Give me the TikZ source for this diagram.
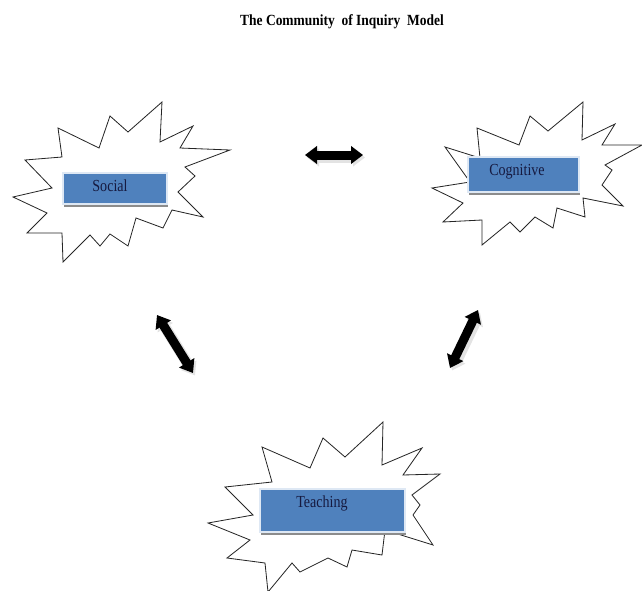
\documentclass[tikz,border=0pt]{standalone}
\usepackage{fontspec}
\setmainfont{Liberation Serif}
\usetikzlibrary{arrows.meta,shadows}
\definecolor{boxblue}{RGB}{79,129,189}
\definecolor{boxedge}{RGB}{222,232,244}
\definecolor{inkblue}{RGB}{22,26,64}
\tikzstyle{burst}=[draw=black!85,fill=white,line width=0.7pt,line join=miter]
\tikzstyle{tag}=[rectangle,fill=boxblue,draw=boxedge,line width=1.6pt,inner sep=0pt,
  drop shadow={shadow xshift=0.5pt,shadow yshift=-2.6pt,fill=black!45,opacity=1}]
\tikzstyle{tagtext}=[text=inkblue,font=\fontsize{12}{14}\selectfont,inner sep=0pt,yscale=1.2]
\tikzstyle{title}=[font=\fontsize{11.5}{13}\selectfont\bfseries,inner sep=0pt,yscale=1.15]
\tikzstyle{link}=[line width=0.27cm,{Triangle[width=0.52cm,length=0.36cm]}-{Triangle[width=0.52cm,length=0.36cm]}]

\begin{document}
\begin{tikzpicture}[x=0.03cm,y=-0.03cm]
    \useasboundingbox (0,0) rectangle (642,591);
    % Title
    \node[title] (Title) at (342,22) {The Community~ of Inquiry~ Model};

    % First the three bursts
    \draw[burst] (58,128) -- (99,148) -- (110,116) -- (128,132) -- (162,102) -- (160,142) -- (193,126)
        -- (180,148) -- (230,150) -- (185,167) -- (195,176) -- (178,192) -- (203,217) -- (172,210)
        -- (163,228) -- (136,218) -- (128,246) -- (110,234) -- (100,246) -- (90,235) -- (63,262)
        -- (62,233) -- (27,233) -- (47,213) -- (13,197) -- (52,188) -- (25,160) -- (62,157) -- cycle;
    \draw[burst] (477,128) -- (519,145) -- (530,116) -- (548,131) -- (583,102) -- (582,140) -- (615,124)
        -- (602,145) -- (642,145) -- (605,165) -- (612,170) -- (602,185) -- (623,206) -- (583,198)
        -- (585,217) -- (557,208) -- (553,228) -- (535,217) -- (520,232) -- (510,222) -- (482,245)
        -- (482,220) -- (443,222) -- (463,203) -- (432,188) -- (470,182) -- (445,147) -- (480,158) -- cycle;
    \draw[burst] (262,447) -- (310,468) -- (323,438) -- (345,457) -- (383,422) -- (382,465) -- (422,448)
        -- (403,475) -- (440,474) -- (412,495) -- (420,505) -- (413,515) -- (433,545) -- (385,530)
        -- (382,555) -- (352,550) -- (347,567) -- (328,558) -- (300,572) -- (292,563) -- (268,592)
        -- (265,563) -- (227,558) -- (250,540) -- (208,523) -- (253,515) -- (225,487) -- (272,482) -- cycle;

    % Then the boxes and their words
    \node[tag,minimum width=3.12cm,minimum height=0.93cm] (Social) at (115,188.5) {};
    \node[tag,minimum width=3.33cm,minimum height=1.05cm] (Cognitive) at (523.5,174.5) {};
    \node[tag,minimum width=4.35cm,minimum height=1.29cm] (Teaching) at (332.5,510.5) {};
    \foreach \pos/\name/\word in {{(110,186)/SocialText/Social}, {(517,172)/CognitiveText/Cognitive}, {(322,503)/TeachingText/Teaching}}
        \node[tagtext] (\name) at \pos {\word};

    % Double arrows between them
    \foreach \pos/\name in {{(305,155)/t1}, {(363,155)/t2}, {(157,315)/l1}, {(193,373)/l2}, {(478,310)/r1}, {(450,368)/r2}}
        \path \pos coordinate (\name);
    \foreach \source/\dest in {t1/t2, l1/l2, r1/r2}
    {
        \draw[link,gray!22,line width=0.33cm] ([shift={(2,2.5)}]\source) -- ([shift={(2,2.5)}]\dest);
        \draw[link,black] (\source) -- (\dest);
    }
\end{tikzpicture}
\end{document}
